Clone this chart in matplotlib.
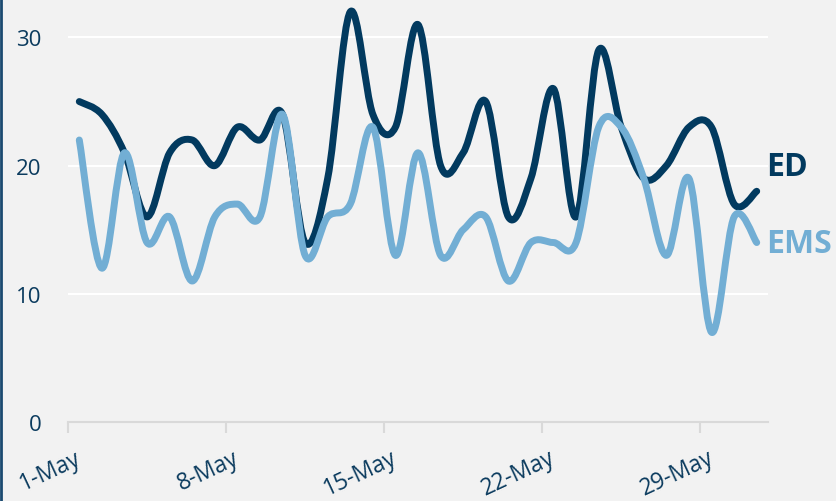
import matplotlib
matplotlib.use("Agg")
import matplotlib.pyplot as plt
import matplotlib.transforms as mtransforms
from matplotlib.path import Path
from matplotlib.patches import PathPatch
from matplotlib.lines import Line2D

# daily counts, 1-May .. 31-May
days = list(range(1, 32))
ed = [25, 24, 21, 16, 21, 22, 20, 23, 22, 24,
      14, 19, 32, 24, 23, 31, 20, 21, 25, 16,
      19, 26, 16, 29, 23, 19, 20, 23, 23, 17, 18]
ems = [22, 12, 21, 14, 16, 11, 16, 17, 16, 24,
       13, 16, 17, 23, 13, 21, 13, 15, 16, 11,
       14, 14, 14, 23, 23, 19, 13, 19, 7, 16, 14]
tick_days = [1, 8, 15, 22, 29]
tick_labels = [f"{d}-May" for d in tick_days]
yticks = [0, 10, 20, 30]

ED_COLOR = "#023a5f"
EMS_COLOR = "#72aed4"
TEXT_COLOR = "#0b3b5e"
BG = "#f2f2f2"

plt.rcParams['font.family'] = ['Open Sans', 'DejaVu Sans']


def smooth_path(xs, ys):
    # excel-style smoothed line: cubic bezier through every point
    pts = list(zip(xs, ys))
    n = len(pts)
    verts = [pts[0]]
    codes = [Path.MOVETO]
    for i in range(n - 1):
        p0 = pts[max(i - 1, 0)]
        p1 = pts[i]
        p2 = pts[i + 1]
        p3 = pts[min(i + 2, n - 1)]
        c1 = (p1[0] + (p2[0] - p0[0]) / 6, p1[1] + (p2[1] - p0[1]) / 6)
        c2 = (p2[0] - (p3[0] - p1[0]) / 6, p2[1] - (p3[1] - p1[1]) / 6)
        verts += [c1, c2, p2]
        codes += [Path.CURVE4] * 3
    return Path(verts, codes)


fig = plt.figure(figsize=(8.36, 5.02), dpi=100, facecolor=BG)
ax = fig.add_axes([68 / 836, 79 / 502, 700 / 836, 423 / 502], facecolor=BG)

xs = [d - 0.5 for d in days]
for series, color, z in [(ed, ED_COLOR, 3), (ems, EMS_COLOR, 4)]:
    patch = PathPatch(smooth_path(xs, series), fill=False, edgecolor=color, lw=5,
                      capstyle='round', joinstyle='round', zorder=z)
    ax.add_patch(patch)

ax.set_xlim(0, 31)
ax.set_ylim(0, 33)

ax.set_yticks(yticks)
ax.yaxis.grid(True, color='white', lw=1.5)
ax.set_axisbelow(True)
ax.tick_params(axis='y', length=0, pad=19, labelsize=16, labelcolor=TEXT_COLOR)

ax.set_xticks([d - 1 for d in tick_days])
ax.set_xticklabels(tick_labels, rotation=25, ha='right')
ax.tick_params(axis='x', length=8, width=1.5, color='#d9d9d9', pad=9,
               labelsize=16.5, labelcolor=TEXT_COLOR)
offset = mtransforms.ScaledTranslation(17 / 100, 0, fig.dpi_scale_trans)
for lab in ax.get_xticklabels():
    lab.set_transform(lab.get_transform() + offset)

for side in ['top', 'right', 'left']:
    ax.spines[side].set_visible(False)
ax.spines['bottom'].set_color('#d9d9d9')
ax.spines['bottom'].set_linewidth(1.5)

ax.text(30.9, 19.9, "ED", color=ED_COLOR, fontsize=23, fontweight='bold',
        ha='left', va='center', clip_on=False)
ax.text(30.9, 13.9, "EMS", color=EMS_COLOR, fontsize=23, fontweight='bold',
        ha='left', va='center', clip_on=False)

# dark edge on the left like the source slide
fig.add_artist(Line2D([0.0015, 0.0015], [0, 1], transform=fig.transFigure,
                      color='#1b4a70', lw=2))

fig.savefig("out.png", dpi=100, facecolor=BG)
